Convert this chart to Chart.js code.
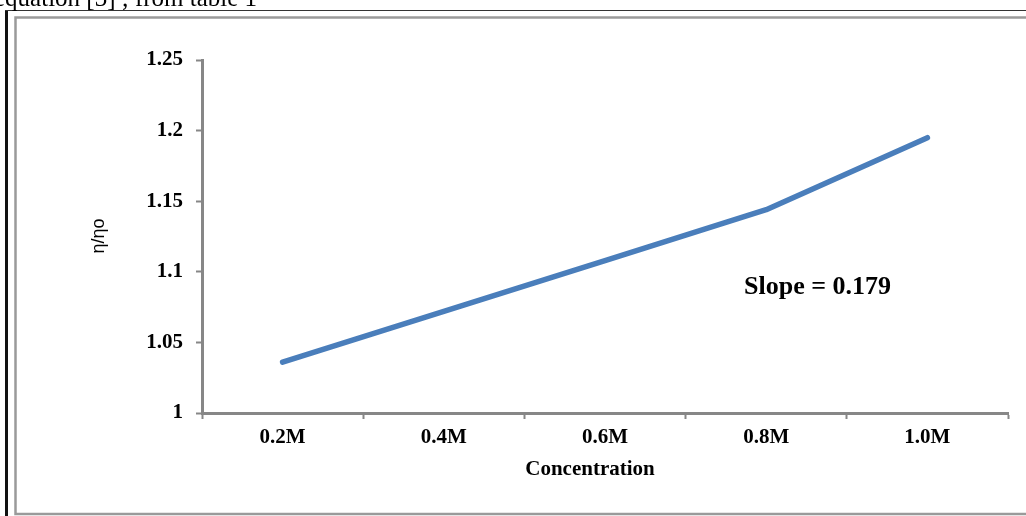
<!DOCTYPE html>
<html>
<head>
<meta charset="utf-8">
<script src="https://cdn.jsdelivr.net/npm/chart.js@4.4.1/dist/chart.umd.min.js"></script>
<style>
  html, body { margin: 0; padding: 0; background: #fff; overflow: hidden; }
  #wrap { position: relative; width: 1026px; height: 516px; }
</style>
</head>
<body>
<div id="wrap"><canvas id="c" width="1026" height="516"></canvas></div>
<script>
// ---- data ----
const categories = ['0.2M', '0.4M', '0.6M', '0.8M', '1.0M'];
const viscosityRatio = [1.036, 1.072, 1.108, 1.144, 1.195];
const yTicks = [1, 1.05, 1.1, 1.15, 1.2, 1.25];
const yTickLabels = ['1', '1.05', '1.1', '1.15', '1.2', '1.25'];
const xTitle = 'Concentration';
const yTitle = 'η/ηο';
const slopeNote = 'Slope = 0.179';
const headerText = 'equation [3] ; from table 1';

const SERIF = "'Liberation Serif', 'Times New Roman', Times, serif";
const SANS = "'Liberation Sans', Arial, sans-serif";
const AXIS = '#878787';

const decor = {
  id: 'decor',
  beforeDraw(chart) {
    const ctx = chart.ctx;
    ctx.save();
    ctx.fillStyle = '#fff';
    ctx.fillRect(0, 0, chart.width, chart.height);
    // page frame lines
    ctx.fillStyle = '#111';
    ctx.fillRect(5, 10, 3, 506);
    ctx.fillStyle = '#333';
    ctx.fillRect(5, 10, 1021, 1);
    // chart border
    ctx.strokeStyle = '#9a9a9a';
    ctx.lineWidth = 2.5;
    ctx.strokeRect(15.5, 17.5, 1030, 496.5);
    // header text (cut at top)
    ctx.fillStyle = '#000';
    ctx.font = '25px ' + SERIF;
    ctx.textBaseline = 'alphabetic';
    ctx.textAlign = 'left';
    ctx.fillText(headerText, -6, 6);
    ctx.restore();
  },
  afterDraw(chart) {
    const ctx = chart.ctx;
    ctx.save();
    ctx.fillStyle = '#000';
    // x title
    ctx.font = 'bold 21px ' + SERIF;
    ctx.textAlign = 'center';
    ctx.textBaseline = 'middle';
    ctx.fillText(xTitle, 590, 470);
    // y title
    ctx.save();
    ctx.translate(99, 236);
    ctx.rotate(-Math.PI / 2);
    ctx.font = '18px ' + SANS;
    ctx.fillText(yTitle, 0, 0);
    ctx.restore();
    // slope note
    ctx.font = 'bold 26px ' + SERIF;
    ctx.textAlign = 'left';
    ctx.textBaseline = 'alphabetic';
    ctx.fillText(slopeNote, 744, 294);
    ctx.restore();
  }
};

new Chart(document.getElementById('c'), {
  type: 'line',
  data: {
    labels: categories,
    datasets: [{
      data: viscosityRatio,
      borderColor: '#4a7ebb',
      borderWidth: 5.5,
      borderCapStyle: 'round',
      borderJoinStyle: 'round',
      pointRadius: 0,
      tension: 0,
      fill: false
    }]
  },
  options: {
    responsive: false,
    animation: false,
    devicePixelRatio: 1,
    layout: { padding: { left: 0, top: 60, right: 18, bottom: 0 } },
    plugins: { legend: { display: false }, tooltip: { enabled: false }, title: { display: false } },
    scales: {
      x: {
        type: 'category',
        offset: true,
        grid: { display: true, offset: true, drawOnChartArea: false, drawTicks: true, tickLength: 6, tickColor: AXIS, tickWidth: 2, color: AXIS },
        border: { display: true, color: AXIS, width: 3 },
        ticks: { color: '#000', font: { family: SERIF, size: 21, weight: 'bold' }, padding: 6, maxRotation: 0, autoSkip: false },
        afterFit(scale) { scale.height = 103; }
      },
      y: {
        type: 'linear',
        min: 1,
        max: 1.25,
        afterBuildTicks(scale) { scale.ticks = yTicks.map(v => ({ value: v })); },
        grid: { display: true, drawOnChartArea: false, drawTicks: true, tickLength: 6, tickColor: AXIS, tickWidth: 2, color: AXIS },
        border: { display: true, color: AXIS, width: 3 },
        ticks: {
          color: '#000',
          font: { family: SERIF, size: 21, weight: 'bold' },
          padding: 13,
          callback(v, i) { return yTickLabels[i]; }
        },
        afterFit(scale) { scale.width = 202; }
      }
    }
  },
  plugins: [decor]
});
</script>
</body>
</html>
